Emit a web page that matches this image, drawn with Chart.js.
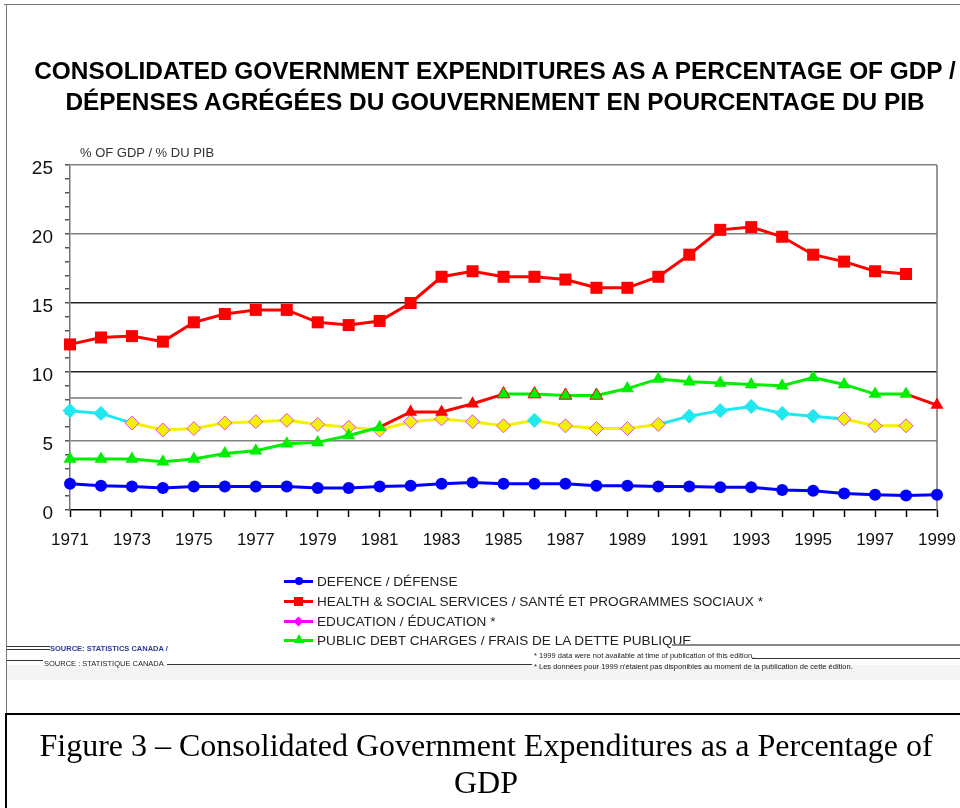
<!DOCTYPE html>
<html>
<head>
<meta charset="utf-8">
<title>Consolidated Government Expenditures as a Percentage of GDP</title>
<script src="https://cdn.jsdelivr.net/npm/chart.js@4.4.0/dist/chart.umd.min.js"></script>
<style>
  html, body { margin: 0; padding: 0; background: #fff; }
  body { width: 960px; height: 808px; position: relative; overflow: hidden; font-family: "Liberation Sans", Arial, sans-serif; }
  #chart { position: absolute; left: 0; top: 0; }
  .abs { position: absolute; }
  .hl { position: absolute; height: 1px; background: #333; }
  #title { left: 30px; top: 55px; width: 930px; text-align: center; font-weight: bold; font-size: 24.4px; line-height: 31px; color: #000; white-space: nowrap; }
  #unit { left: 80px; top: 145px; font-size: 13px; line-height: 16px; color: #333; }
  .leg { position: absolute; left: 284px; height: 20px; display: flex; align-items: center; font-size: 13.6px; color: #222; white-space: nowrap; }
  .leg .sw { position: relative; width: 29px; height: 3px; margin-right: 4px; }
  .leg .mk { position: absolute; left: 50%; top: 50%; }
  .tiny { position: absolute; font-size: 7.5px; line-height: 9px; white-space: nowrap; color: #222; }
  #caption { left: 12px; top: 727px; width: 948px; text-align: center; font-family: "Liberation Serif", "Times New Roman", serif; font-size: 32px; line-height: 37px; color: #000; white-space: nowrap; }
</style>
</head>
<body>
<canvas id="chart" width="960" height="808"></canvas>

<!-- page frame -->
<div class="abs" style="left:4px;top:4px;width:956px;height:1px;background:#777"></div>
<div class="abs" style="left:6px;top:4px;width:1px;height:710px;background:#777"></div>
<div class="abs" style="left:70px;top:397px;width:392px;height:2px;background:#999"></div>

<div id="title" class="abs">CONSOLIDATED GOVERNMENT EXPENDITURES AS A PERCENTAGE OF GDP /<br>DÉPENSES AGRÉGÉES DU GOUVERNEMENT EN POURCENTAGE DU PIB</div>
<div id="unit" class="abs">% OF GDP / % DU PIB</div>

<div id="legend"></div>

<!-- source and notes -->
<div class="abs" style="left:7px;top:665px;width:953px;height:15px;background:#f4f4f4"></div>
<div class="hl" style="left:7px;top:646px;width:43px"></div>
<div class="hl" style="left:7px;top:649px;width:43px"></div>
<div class="tiny" style="left:50px;top:644px;color:#2b3a9a;font-weight:bold">SOURCE: STATISTICS CANADA /</div>
<div class="hl" style="left:7px;top:660px;width:36px"></div>
<div class="tiny" style="left:44px;top:659px">SOURCE : STATISTIQUE CANADA</div>
<div class="hl" style="left:167px;top:664px;width:365px"></div>
<div class="abs" style="left:672px;top:644px;width:288px;height:2px;background:#888"></div>
<div class="tiny" style="left:534px;top:651px">* 1999 data were not available at time of publication of this edition.</div>
<div class="hl" style="left:752px;top:658px;width:208px"></div>
<div class="tiny" style="left:534px;top:662px">* Les données pour 1999 n'étaient pas disponibles au moment de la publication de cette édition.</div>

<!-- caption box -->
<div class="abs" style="left:5px;top:713px;width:955px;height:2px;background:#000"></div>
<div class="abs" style="left:5px;top:713px;width:2px;height:95px;background:#000"></div>
<div id="caption" class="abs">Figure 3 – Consolidated Government Expenditures as a Percentage of<br>GDP</div>

<script>
const years = ['1971', '1972', '1973', '1974', '1975', '1976', '1977', '1978', '1979', '1980',
               '1981', '1982', '1983', '1984', '1985', '1986', '1987', '1988', '1989', '1990',
               '1991', '1992', '1993', '1994', '1995', '1996', '1997', '1998', '1999'];

// % of GDP
const defence = [1.9, 1.75, 1.7, 1.6, 1.7, 1.7, 1.7, 1.7, 1.6, 1.6,
                 1.7, 1.75, 1.9, 2.0, 1.9, 1.9, 1.9, 1.75, 1.75, 1.7,
                 1.7, 1.65, 1.65, 1.45, 1.4, 1.2, 1.1, 1.05, 1.1];
const health = [12.0, 12.5, 12.6, 12.2, 13.6, 14.2, 14.5, 14.5, 13.6, 13.4,
                13.7, 15.0, 16.9, 17.3, 16.9, 16.9, 16.7, 16.1, 16.1, 16.9,
                18.5, 20.3, 20.5, 19.8, 18.5, 18.0, 17.3, 17.1, null];
const education = [7.2, 7.0, 6.3, 5.8, 5.9, 6.3, 6.4, 6.5, 6.2, 6.0,
                   5.8, 6.4, 6.6, 6.4, 6.1, 6.5, 6.1, 5.9, 5.9, 6.2,
                   6.8, 7.2, 7.5, 7.0, 6.8, 6.6, 6.1, 6.1, null];
const debtCharges = [3.7, 3.7, 3.7, 3.5, 3.7, 4.1, 4.3, 4.8, 4.9, 5.4,
                     6.0, 7.1, 7.1, 7.7, 8.4, 8.4, 8.3, 8.3, 8.8, 9.5,
                     9.3, 9.2, 9.1, 9.0, 9.6, 9.1, 8.4, 8.4, 7.6];

const seriesNames = ['DEFENCE / DÉFENSE',
                     'HEALTH & SOCIAL SERVICES / SANTÉ ET PROGRAMMES SOCIAUX *',
                     'EDUCATION / ÉDUCATION *',
                     'PUBLIC DEBT CHARGES / FRAIS DE LA DETTE PUBLIQUE'];

const FONT = '"Liberation Sans", Arial, sans-serif';

// the scanned original mixes a few colours on two of the lines
const eduCyan = [0, 1, 15, 20, 21, 22, 23, 24];
const eduCyanSeg = [0, 1, 19, 20, 21, 22, 23, 24];
const debtRed = [11, 12, 13, 28];
const debtRedSeg = [10, 11, 12, 13, 27];

const frame = {
    id: 'frame',
    beforeDatasetsDraw(chart) {
        const { ctx, chartArea: a } = chart;
        ctx.save();
        ctx.strokeStyle = '#777';
        ctx.lineWidth = 1.5;
        ctx.beginPath();
        ctx.moveTo(a.right, a.top);
        ctx.lineTo(a.right, a.bottom);
        ctx.stroke();
        ctx.restore();
    }
};

const ctx = document.getElementById('chart').getContext('2d');
new Chart(ctx, {
    type: 'line',
    data: {
        labels: years,
        datasets: [
            {
                label: seriesNames[3],
                data: debtCharges,
                borderColor: '#00ee00',
                segment: {
                    borderColor: c => debtRedSeg.includes(c.p0DataIndex) ? '#ff0000' : '#00ee00'
                },
                pointBackgroundColor: debtCharges.map((v, i) => debtRed.includes(i) ? '#ff0000' : '#00ee00'),
                pointBorderColor: debtCharges.map((v, i) => (i >= 14 && i <= 17) ? '#ff0000' : 'rgba(0,0,0,0)'),
                pointBorderWidth: 1,
                pointStyle: 'triangle',
                pointRadius: 7.5,
                borderWidth: 3,
                clip: false
            },
            {
                label: seriesNames[2],
                data: education,
                borderColor: '#f2f200',
                segment: {
                    borderColor: c => eduCyanSeg.includes(c.p0DataIndex) ? '#20e8f0' : '#f2f200'
                },
                pointBackgroundColor: education.map((v, i) => eduCyan.includes(i) ? '#20e8f0' : '#f2f200'),
                pointBorderColor: education.map((v, i) => eduCyan.includes(i) ? '#20e8f0' : '#ee44ee'),
                pointBorderWidth: 1,
                pointStyle: 'rectRot',
                pointRadius: 7,
                borderWidth: 3,
                clip: false
            },
            {
                label: seriesNames[1],
                data: health,
                borderColor: '#ff0000',
                backgroundColor: '#ff0000',
                pointStyle: 'rect',
                pointRadius: 8.5,
                pointBorderWidth: 0,
                borderWidth: 3,
                clip: false
            },
            {
                label: seriesNames[0],
                data: defence,
                borderColor: '#0000ff',
                backgroundColor: '#0000ff',
                pointStyle: 'circle',
                pointRadius: 6,
                pointBorderWidth: 0,
                borderWidth: 3,
                clip: false
            }
        ]
    },
    options: {
        responsive: false,
        animation: false,
        devicePixelRatio: 1,
        layout: {
            padding: { top: 165, right: 23, bottom: 250, left: 0 }
        },
        plugins: {
            legend: { display: false },
            tooltip: { enabled: false }
        },
        elements: {
            line: { tension: 0 }
        },
        scales: {
            x: {
                offset: false,
                grid: { drawOnChartArea: false, drawTicks: true, tickLength: 7, tickColor: '#000', tickWidth: 1.5 },
                border: { color: '#000', width: 1.5 },
                ticks: {
                    autoSkip: false,
                    maxRotation: 0,
                    color: '#111',
                    padding: 13,
                    font: { family: FONT, size: 17 },
                    callback: (v, i) => i % 2 === 0 ? years[i] : ''
                },
                afterFit: s => { s.height = 48; s.paddingLeft = 0; s.paddingRight = 0; }
            },
            y: {
                min: 0,
                max: 25,
                ticks: {
                    stepSize: 1,
                    autoSkip: false,
                    color: '#111',
                    padding: 12,
                    labelOffset: 4,
                    font: { family: FONT, size: 19 },
                    callback: v => v % 5 === 0 ? v : ''
                },
                grid: {
                    color: c => (c.tick && c.tick.value % 5 === 0 && c.tick.value > 0) ? (c.tick.value >= 20 || c.tick.value === 5 ? '#808080' : '#222') : 'rgba(0,0,0,0)',
                    lineWidth: 1.5,
                    tickColor: '#555',
                    tickLength: 5,
                    drawTicks: true
                },
                border: { color: '#777', width: 1.5 },
                afterFit: s => { s.width = 70; s.paddingTop = 0; s.paddingBottom = 0; }
            }
        }
    },
    plugins: [frame]
});

// legend
const legendItems = [
    { color: '#0000ff', shape: 'circle' },
    { color: '#ff0000', shape: 'rect' },
    { color: '#ff00ff', shape: 'diamond' },
    { color: '#00ee00', shape: 'triangle' }
];
const legendRows = [581, 601, 621, 640];
const legendEl = document.getElementById('legend');
legendItems.forEach((item, i) => {
    const row = document.createElement('div');
    row.className = 'leg';
    row.style.top = (legendRows[i] - 10) + 'px';
    const sw = document.createElement('div');
    sw.className = 'sw';
    sw.style.background = item.color;
    const mk = document.createElement('div');
    mk.className = 'mk';
    if (item.shape === 'circle') {
        mk.style.cssText += 'width:8px;height:8px;margin:-4px 0 0 -4px;border-radius:50%;background:' + item.color;
    } else if (item.shape === 'rect') {
        mk.style.cssText += 'width:9px;height:9px;margin:-4.5px 0 0 -4.5px;background:' + item.color;
    } else if (item.shape === 'diamond') {
        mk.style.cssText += 'width:7px;height:7px;margin:-3.5px 0 0 -3.5px;transform:rotate(45deg);background:' + item.color;
    } else {
        mk.style.cssText += 'width:0;height:0;margin:-6px 0 0 -5px;border-left:5px solid transparent;border-right:5px solid transparent;border-bottom:9px solid ' + item.color;
    }
    sw.appendChild(mk);
    const label = document.createElement('span');
    label.textContent = seriesNames[i];
    row.appendChild(sw);
    row.appendChild(label);
    legendEl.appendChild(row);
});
</script>
</body>
</html>
